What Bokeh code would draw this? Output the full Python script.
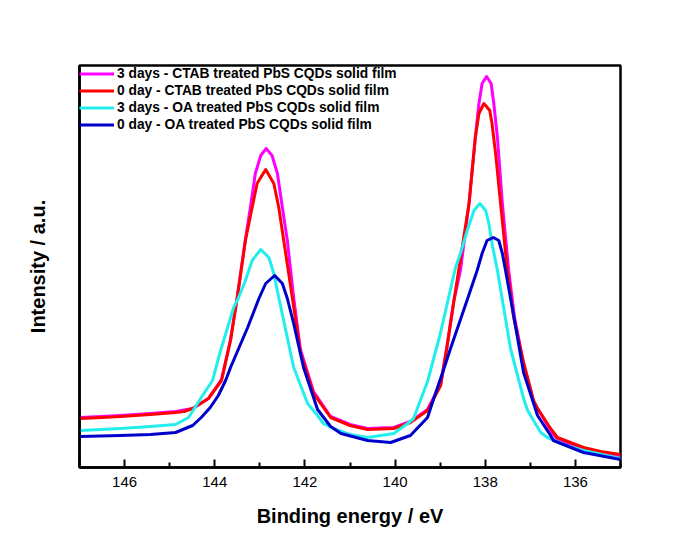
from bokeh.plotting import figure
from bokeh.models import Range1d, FixedTicker
from bokeh.embed import file_html
from bokeh.resources import INLINE

# ---- data (binding energy eV, intensity a.u.) ----
mag_x = [146.98, 146.09, 145.43, 144.87, 144.49, 144.14, 143.85, 143.65, 143.50, 143.32, 143.21, 143.10, 142.98,
         142.86, 142.73, 142.61, 142.50, 142.39, 142.25, 142.10, 141.81, 141.43, 141.0, 140.61, 140.03, 139.66,
         139.28, 138.99, 138.85, 138.70, 138.55, 138.36, 138.22, 138.14, 138.07, 137.97, 137.87, 137.81, 137.73,
         137.62, 137.48, 137.35, 137.15, 136.93, 136.55, 136.40, 135.82, 135.0]
mag_y = [50, 52, 54, 56, 59, 69, 88, 128, 171, 228, 260, 294, 312,
         319, 312, 294, 260, 227, 170, 118, 76, 51, 43, 39, 40, 46,
         58, 83, 121, 166, 197, 264, 330, 364, 384, 391, 384, 364, 330,
         264, 197, 150, 104, 66, 37, 28, 18, 11]

red_x = [146.98, 146.5, 146.09, 145.43, 144.87, 144.68, 144.49, 144.14, 143.85, 143.65, 143.50, 143.32, 143.17,
         143.06, 142.87, 142.69, 142.58, 142.47, 142.28, 142.10, 141.81, 141.43, 141.0, 140.61, 140.03, 139.66,
         139.28, 138.99, 138.85, 138.70, 138.59, 138.36, 138.22, 138.14, 138.03, 137.90, 137.85, 137.77, 137.66,
         137.51, 137.37, 137.15, 136.93, 136.84, 136.55, 136.40, 135.82, 135.44, 135.0]
red_y = [49, 50, 51, 53, 55, 56, 59, 69, 87, 127, 170, 227, 260,
         284, 298, 284, 260, 227, 170, 115, 74, 50, 42, 38, 39, 45,
         57, 82, 120, 165, 197, 264, 330, 354, 364, 357, 344, 314, 264,
         197, 150, 105, 67, 59, 39, 30, 20, 16, 13]

cyan_x = [146.98, 146.09, 145.43, 144.87, 144.58, 144.27, 144.05, 143.87, 143.58, 143.47, 143.32, 143.17, 142.98,
          142.80, 142.69, 142.58, 142.25, 141.94, 141.72, 141.59, 141.37, 141.0, 140.61, 140.03, 139.72, 139.59,
          139.44, 139.28, 138.99, 138.66, 138.55, 138.40, 138.25, 138.12, 137.99, 137.92, 137.85, 137.73, 137.44,
          137.15, 137.06, 136.77, 136.62, 136.2, 135.82, 135.0]
cyan_y = [37, 39, 41, 43, 50, 72, 87, 117, 160, 170, 187, 207, 218,
          210, 194, 170, 100, 64, 52, 44, 39, 33, 30, 34, 44, 49,
          67, 86, 135, 200, 214, 237, 257, 264, 257, 244, 224, 197, 119,
          69, 57, 35, 30, 22, 17, 9]

blue_x = [146.98, 146.09, 145.43, 144.87, 144.49, 144.30, 144.10, 143.92, 143.76, 143.65, 143.27, 143.02, 142.87,
          142.67, 142.50, 142.39, 142.25, 142.03, 141.72, 141.43, 141.2, 140.61, 140.10, 139.66, 139.28, 139.15,
          138.93, 138.77, 138.39, 138.18, 138.07, 137.96, 137.82, 137.70, 137.62, 137.55, 137.37, 137.15, 136.84,
          136.55, 136.49, 135.82, 135.0]
blue_y = [31, 32, 33, 35, 42, 50, 60, 72, 87, 100, 140, 169, 184,
          192, 184, 169, 144, 100, 58, 41, 34, 27, 25, 32, 50, 68,
          97, 119, 169, 197, 214, 227, 230, 227, 214, 197, 152, 95, 52,
          32, 27, 15, 8]

labels = ["3 days - CTAB treated PbS CQDs solid film",
          "0 day - CTAB treated PbS CQDs solid film",
          "3 days - OA treated PbS CQDs solid film",
          "0 day - OA treated PbS CQDs solid film"]
major_ticks = [136, 138, 140, 142, 144, 146]
minor_ticks = [135, 137, 139, 141, 143, 145, 147]

FONT = "Liberation Sans"

p = figure(width=665, height=540, x_range=Range1d(147, 135), y_range=Range1d(0, 402),
           output_backend="svg", toolbar_location=None,
           min_border_left=79, min_border_right=45, min_border_top=65, min_border_bottom=73)

series = [(mag_x, mag_y, "#FF00FF"), (red_x, red_y, "#FF0000"),
          (cyan_x, cyan_y, "#22EEEE"), (blue_x, blue_y, "#0000CC")]
for (xs, ys, c), lab in zip(series, labels):
    p.line(xs, ys, line_color=c, line_width=3, line_join="round", legend_label=lab)

p.xgrid.visible = False
p.ygrid.visible = False
p.outline_line_color = "black"
p.outline_line_width = 2.5

xa = p.xaxis[0]
xa.ticker = FixedTicker(ticks=major_ticks, minor_ticks=minor_ticks)
xa.axis_label = "Binding energy / eV"
xa.axis_label_text_font = FONT
xa.axis_label_text_font_style = "bold"
xa.axis_label_text_font_size = "20px"
xa.axis_label_text_color = "black"
xa.axis_label_standoff = 15
xa.major_label_text_font = FONT
xa.major_label_text_font_size = "15px"
xa.major_label_text_color = "black"
xa.major_label_standoff = 9
xa.major_tick_in = 8
xa.major_tick_out = 0
xa.minor_tick_in = 5
xa.minor_tick_out = 0
xa.major_tick_line_width = 2
xa.minor_tick_line_width = 2
xa.axis_line_width = 2.5
xa.axis_line_color = "black"
xa.major_tick_line_color = "black"
xa.minor_tick_line_color = "black"

ya = p.yaxis[0]
ya.ticker = FixedTicker(ticks=[])
ya.axis_label = "Intensity / a.u."
ya.axis_label_text_font = FONT
ya.axis_label_text_font_style = "bold"
ya.axis_label_text_font_size = "20px"
ya.axis_label_text_color = "black"
ya.axis_label_standoff = 31
ya.major_tick_line_color = None
ya.minor_tick_line_color = None
ya.axis_line_width = 2.5
ya.axis_line_color = "black"

lg = p.legend[0]
lg.location = "top_left"
lg.border_line_color = None
lg.background_fill_alpha = 0
lg.label_text_font = FONT
lg.label_text_font_style = "bold"
lg.label_text_font_size = "13.8px"
lg.label_text_color = "black"
lg.glyph_width = 35
lg.glyph_height = 17
lg.label_height = 17
lg.spacing = 0
lg.padding = 5
lg.margin = 0
lg.label_standoff = 3

open("out.html", "w").write(file_html(p, INLINE))
